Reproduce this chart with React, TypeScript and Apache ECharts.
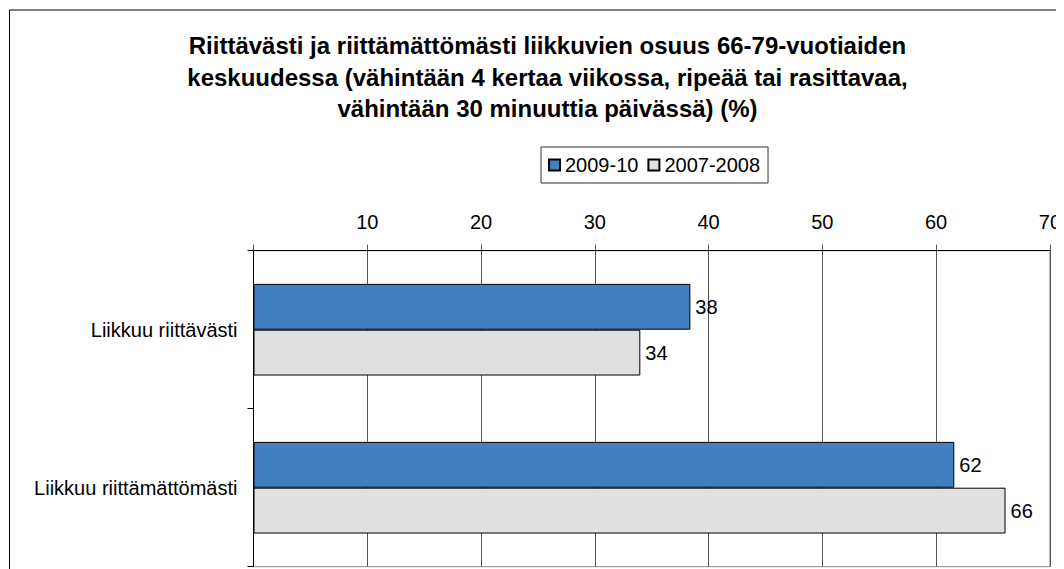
import React, { useEffect, useRef } from "react";
import * as echarts from "echarts";

const titleLines = [
  "Riittävästi ja riittämättömästi liikkuvien osuus 66-79-vuotiaiden",
  "keskuudessa (vähintään 4 kertaa viikossa, ripeää tai rasittavaa,",
  "vähintään 30 minuuttia päivässä) (%)",
];
const categories = ["Liikkuu riittävästi", "Liikkuu riittämättömästi"];
const seriesNames = ["2009-10", "2007-2008"];
const values2009 = [38.4, 61.6];
const values2007 = [34, 66.1];
const axisMin = 0;
const axisMax = 70;
const axisInterval = 10;

const FONT = "'Liberation Sans', Arial, Helvetica, sans-serif";

export default function App() {
  const ref = useRef<HTMLDivElement>(null);
  useEffect(() => {
    document.documentElement.style.overflow = "hidden";
    document.body.style.overflow = "hidden";
    const chart = echarts.init(ref.current!, null, { renderer: "svg" });
    const labelFmt = (p: any) => String(Math.round(p.value));
    chart.setOption({
      animation: false,
      textStyle: { fontFamily: FONT },
      graphic: [
        {
          type: "rect",
          z: -10,
          shape: { x: 1.5, y: 2, width: 1300, height: 800 },
          style: { fill: "#fff", stroke: "#000", lineWidth: 1 },
          silent: true,
        },
        {
          type: "text",
          x: 539.5,
          y: 22,
          style: {
            text: titleLines.join("\n"),
            fontFamily: FONT,
            fontSize: 24,
            fontWeight: "bold",
            fill: "#000",
            textAlign: "center",
            align: "center",
            textVerticalAlign: "top",
            verticalAlign: "top",
            lineHeight: 31.5,
          },
        },
      ],
      legend: {
        left: 533,
        top: 139,
        orient: "horizontal",
        padding: [8, 8, 8, 7],
        borderColor: "#333",
        borderWidth: 1,
        itemWidth: 11,
        itemHeight: 11,
        itemGap: 9,
        icon: "rect",
        textStyle: { fontSize: 20, color: "#000", fontFamily: FONT },
        data: seriesNames,
      },
      grid: {
        left: 245.5,
        top: 242.7,
        width: 800.5,
        height: 316,
        show: true,
        borderColor: "#888",
        borderWidth: 1,
        backgroundColor: "transparent",
      },
      xAxis: {
        type: "value",
        position: "top",
        min: axisMin,
        max: axisMax,
        interval: axisInterval,
        axisLine: { show: true, onZero: false, lineStyle: { color: "#000", width: 1 } },
        axisTick: { show: true, inside: false, length: 6, lineStyle: { color: "#555" } },
        axisLabel: {
          fontSize: 20,
          color: "#000",
          margin: 19,
          fontFamily: FONT,
          formatter: (v: number) => (v === 0 ? "" : String(v)),
        },
        splitLine: { show: true, lineStyle: { color: "#555", width: 1 } },
      },
      yAxis: {
        type: "category",
        data: categories,
        inverse: true,
        axisLine: { show: true, lineStyle: { color: "#000", width: 1 } },
        axisTick: { show: true, length: 6, lineStyle: { color: "#000" } },
        axisLabel: { fontSize: 20, color: "#000", margin: 16, fontFamily: FONT },
        splitLine: { show: false },
      },
      series: [
        {
          name: seriesNames[0],
          type: "bar",
          data: values2009,
          barGap: "0%",
          barCategoryGap: "42%",
          itemStyle: { color: "#4080C1", borderColor: "#000", borderWidth: 1 },
          label: {
            show: true,
            position: "right",
            distance: 5,
            fontSize: 20,
            color: "#000",
            fontFamily: FONT,
            formatter: labelFmt,
          },
        },
        {
          name: seriesNames[1],
          type: "bar",
          data: values2007,
          barGap: "0%",
          barCategoryGap: "42%",
          itemStyle: { color: "#E0E0E0", borderColor: "#000", borderWidth: 1 },
          label: {
            show: true,
            position: "right",
            distance: 5,
            fontSize: 20,
            color: "#000",
            fontFamily: FONT,
            formatter: labelFmt,
          },
        },
      ],
    });
    return () => chart.dispose();
  }, []);
  return <div ref={ref} style={{ width: 1056, height: 561 }} />;
}
